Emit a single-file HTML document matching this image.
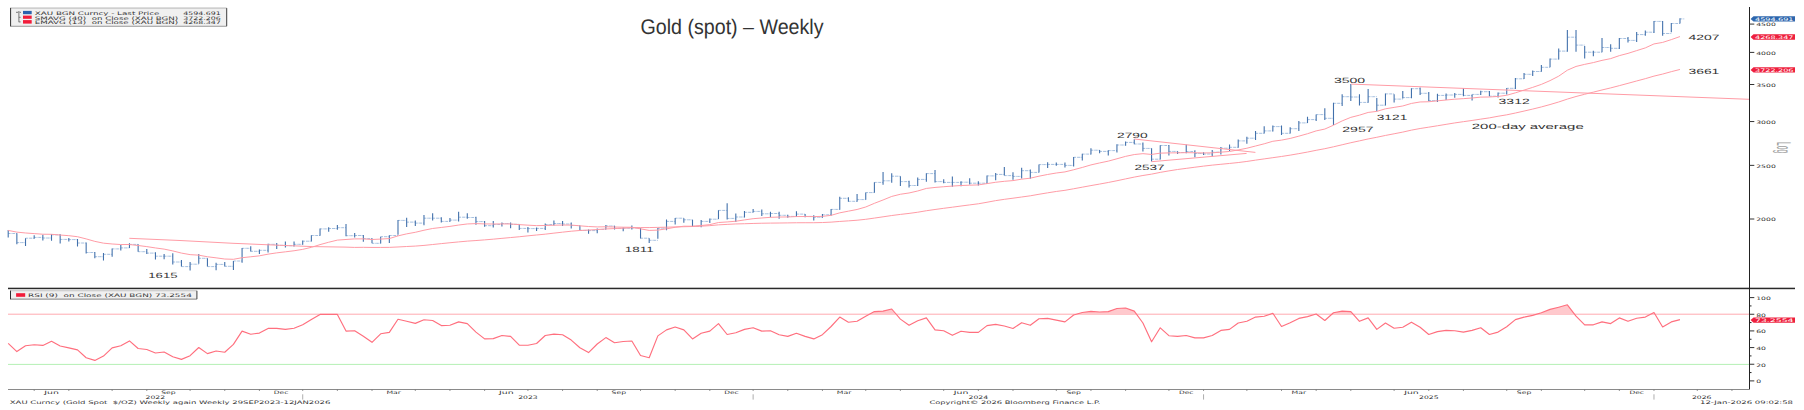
<!DOCTYPE html>
<html><head><meta charset="utf-8"><title>Gold (spot) – Weekly</title>
<style>html,body{margin:0;padding:0;background:#fff;width:1804px;height:410px;overflow:hidden}</style>
</head><body>
<svg width="1804" height="410" viewBox="0 0 1804 410" style="display:block" text-rendering="geometricPrecision">
<rect width="1804" height="410" fill="#fff"/>
<path d="M8.2 233.5H12.5M12.56 233.5H16.86M16.86 242.6H21.16M21.22 242.6H25.52M25.52 238.2H29.82M29.89 238.2H34.19M34.19 237.4H38.49M38.55 237.4H42.85M42.85 238H47.15M47.21 238H51.51M51.51 234.8H55.81M55.87 234.8H60.17M60.17 239.4H64.47M64.53 239.4H68.83M68.83 239.6H73.13M73.2 239.6H77.5M77.5 243H81.8M81.86 243H86.16M86.16 252.5H90.46M90.52 252.5H94.82M94.82 256.7H99.12M99.18 256.7H103.48M103.48 254.3H107.78M107.84 254.3H112.14M112.14 248.9H116.44M116.51 248.9H120.81M120.81 247.9H125.11M125.17 247.9H129.47M129.47 244.4H133.77M133.83 244.4H138.13M138.13 251.7H142.43M142.49 251.7H146.79M146.79 253.1H151.09M151.15 253.1H155.45M155.45 256.2H159.75M159.82 256.2H164.12M164.12 256.2H168.42M168.48 256.2H172.78M172.78 262H177.08M177.14 262H181.44M181.44 266.6H185.74M185.8 266.6H190.1M190.1 264.2H194.4M194.46 264.2H198.76M198.76 258.3H203.06M203.13 258.3H207.43M207.43 266.6H211.73M211.79 266.6H216.09M216.09 264.4H220.39M220.45 264.4H224.75M224.75 266.3H229.05M229.11 266.3H233.41M233.41 261H237.71M237.77 261H242.07M242.07 248.3H246.37M246.44 248.3H250.74M250.74 251.3H255.04M255.1 251.3H259.4M259.4 250.3H263.7M263.76 250.3H268.06M268.06 244.3H272.36M272.42 244.3H276.72M276.72 245.3H281.02M281.08 245.3H285.38M285.38 245.7H289.68M289.75 245.7H294.05M294.05 244.3H298.35M298.41 244.3H302.71M302.71 241.2H307.01M307.07 241.2H311.37M311.37 235.5H315.67M315.73 235.5H320.03M320.03 228.9H324.33M324.39 228.9H328.69M328.69 228.5H332.99M333.06 228.5H337.36M337.36 227.7H341.66M341.72 227.7H346.02M346.02 235.7H350.32M350.38 235.7H354.68M354.68 235.5H358.98M359.04 235.5H363.34M363.34 238.6H367.64M367.7 238.6H372M372 243.3H376.3M376.37 243.3H380.67M380.67 236.7H384.97M385.03 236.7H389.33M389.33 235.5H393.63M393.69 235.5H397.99M397.99 220.4H402.29M402.35 220.4H406.65M406.65 222.1H410.95M411.01 222.1H415.31M415.31 223.1H419.61M419.68 223.1H423.98M423.98 218.2H428.28M428.34 218.2H432.64M432.64 218.2H436.94M437 218.2H441.3M441.3 221.4H445.6M445.66 221.4H449.96M449.96 220.1H454.26M454.32 220.1H458.62M458.62 217.2H462.92M462.99 217.2H467.29M467.29 217.5H471.59M471.65 217.5H475.95M475.95 221.6H480.25M480.31 221.6H484.61M484.61 225.7H488.91M488.97 225.7H493.27M493.27 224.5H497.57M497.63 224.5H501.93M501.93 223.5H506.23M506.3 223.5H510.6M510.6 224.3H514.9M514.96 224.3H519.26M519.26 228.4H523.56M523.62 228.4H527.92M527.92 228.6H532.22M532.28 228.6H536.58M536.58 228.4H540.88M540.94 228.4H545.24M545.24 224.5H549.54M549.61 224.5H553.91M553.91 223.5H558.21M558.27 223.5H562.57M562.57 224H566.87M566.93 224H571.23M571.23 225.5H575.53M575.59 225.5H579.89M579.89 230.4H584.19M584.25 230.4H588.55M588.55 230.6H592.85M592.92 230.6H597.22M597.22 229.4H601.52M601.58 229.4H605.88M605.88 226H610.18M610.24 226H614.54M614.54 228.4H618.84M618.9 228.4H623.2M623.2 228.2H627.5M627.56 228.2H631.86M631.86 227.9H636.16M636.23 227.9H640.53M640.53 238.2H644.83M644.89 238.2H649.19M649.19 240.3H653.49M653.55 240.3H657.85M657.85 228.2H662.15M662.21 228.2H666.51M666.51 221.4H670.81M670.87 221.4H675.17M675.17 218.2H679.47M679.54 218.2H683.84M683.84 219.8H688.14M688.2 219.8H692.5M692.5 226.3H696.8M696.86 226.3H701.16M701.16 221.4H705.46M705.52 221.4H709.82M709.82 219.2H714.12M714.18 219.2H718.48M718.48 210.4H722.78M722.85 210.4H727.15M727.15 218.4H731.45M731.51 218.4H735.81M735.81 217H740.11M740.17 217H744.47M744.47 212.3H748.77M748.83 212.3H753.13M753.13 211.4H757.43M757.49 211.4H761.79M761.79 213.8H766.09M766.16 213.8H770.46M770.46 213.5H774.76M774.82 213.5H779.12M779.12 215.3H783.42M783.48 215.3H787.78M787.78 216.4H792.08M792.14 216.4H796.44M796.44 214.1H800.74M800.8 214.1H805.1M805.1 216.4H809.4M809.47 216.4H813.77M813.77 217.2H818.07M818.13 217.2H822.43M822.43 214.8H826.73M826.79 214.8H831.09M831.09 209.4H835.39M835.45 209.4H839.75M839.75 198.3H844.05M844.11 198.3H848.41M848.41 201.3H852.71M852.78 201.3H857.08M857.08 199.6H861.38M861.44 199.6H865.74M865.74 192.6H870.04M870.1 192.6H874.4M874.4 182.4H878.7M878.76 182.4H883.06M883.06 180.8H887.36M887.42 180.8H891.72M891.72 176.2H896.02M896.09 176.2H900.39M900.39 181.6H904.69M904.75 181.6H909.05M909.05 185.5H913.35M913.41 185.5H917.71M917.71 179.4H922.01M922.07 179.4H926.37M926.37 173.6H930.67M930.73 173.6H935.03M935.03 181.6H939.33M939.4 181.6H943.7M943.7 182.4H948M948.06 182.4H952.36M952.36 182.4H956.66M956.72 182.4H961.02M961.02 182.2H965.32M965.38 182.2H969.68M969.68 183.2H973.98M974.04 183.2H978.34M978.34 183.2H982.64M982.71 183.2H987.01M987.01 175.9H991.31M991.37 175.9H995.67M995.67 174.4H999.97M1000.03 174.4H1004.33M1004.33 175.6H1008.63M1008.69 175.6H1012.99M1012.99 176.4H1017.29M1017.35 176.4H1021.65M1021.65 170.7H1025.95M1026.02 170.7H1030.32M1030.32 172.4H1034.62M1034.68 172.4H1038.98M1038.98 164.6H1043.28M1043.34 164.6H1047.64M1047.64 164.4H1051.94M1052 164.4H1056.3M1056.3 164.4H1060.6M1060.66 164.4H1064.96M1064.96 165.4H1069.26M1069.33 165.4H1073.63M1073.63 157.3H1077.93M1077.99 157.3H1082.29M1082.29 154.1H1086.59M1086.65 154.1H1090.95M1090.95 150.2H1095.25M1095.31 150.2H1099.61M1099.61 151.4H1103.91M1103.97 151.4H1108.27M1108.27 150.6H1112.57M1112.64 150.6H1116.94M1116.94 145H1121.24M1121.3 145H1125.6M1125.6 142.4H1129.9M1129.96 142.4H1134.26M1134.26 144H1138.56M1138.62 144H1142.92M1142.92 148.4H1147.22M1147.28 148.4H1151.58M1151.58 159.2H1155.88M1155.95 159.2H1160.25M1160.25 145.5H1164.55M1164.61 145.5H1168.91M1168.91 151.4H1173.21M1173.27 151.4H1177.57M1177.57 152.5H1181.87M1181.93 152.5H1186.23M1186.23 151.5H1190.53M1190.59 151.5H1194.89M1194.89 153.5H1199.19M1199.26 153.5H1203.56M1203.56 154H1207.86M1207.92 154H1212.22M1212.22 152.2H1216.52M1216.58 152.2H1220.88M1220.88 148.2H1225.18M1225.24 148.2H1229.54M1229.54 147.3H1233.84M1233.9 147.3H1238.2M1238.2 140.9H1242.5M1242.57 140.9H1246.87M1246.87 138.2H1251.17M1251.23 138.2H1255.53M1255.53 133.3H1259.83M1259.89 133.3H1264.19M1264.19 130.9H1268.49M1268.55 130.9H1272.85M1272.85 126.6H1277.15M1277.21 126.6H1281.51M1281.51 133.3H1285.81M1285.88 133.3H1290.18M1290.18 128.7H1294.48M1294.54 128.7H1298.84M1298.84 122.9H1303.14M1303.2 122.9H1307.5M1307.5 119.6H1311.8M1311.86 119.6H1316.16M1316.16 114.6H1320.46M1320.52 114.6H1324.82M1324.82 118.3H1329.12M1329.19 118.3H1333.49M1333.49 103.3H1337.79M1337.85 103.3H1342.15M1342.15 96.7H1346.45M1346.51 96.7H1350.81M1350.81 97H1355.11M1355.17 97H1359.47M1359.47 102.4H1363.77M1363.83 102.4H1368.13M1368.13 96.7H1372.43M1372.5 96.7H1376.8M1376.8 105.2H1381.1M1381.16 105.2H1385.46M1385.46 93.9H1389.76M1389.82 93.9H1394.12M1394.12 99.1H1398.42M1398.48 99.1H1402.78M1402.78 97.6H1407.08M1407.14 97.6H1411.44M1411.44 88.7H1415.74M1415.81 88.7H1420.11M1420.11 93.3H1424.41M1424.47 93.3H1428.77M1428.77 100.6H1433.07M1433.13 100.6H1437.43M1437.43 95.4H1441.73M1441.79 95.4H1446.09M1446.09 95H1450.39M1450.45 95H1454.75M1454.75 94.4H1459.05M1459.12 94.4H1463.42M1463.42 95.4H1467.72M1467.78 95.4H1472.08M1472.08 94.4H1476.38M1476.44 94.4H1480.74M1480.74 91.7H1485.04M1485.1 91.7H1489.4M1489.4 96.2H1493.7M1493.76 96.2H1498.06M1498.06 93.2H1502.36M1502.43 93.2H1506.73M1506.73 88.3H1511.03M1511.09 88.3H1515.39M1515.39 78.8H1519.69M1519.75 78.8H1524.05M1524.05 74.3H1528.35M1528.41 74.3H1532.71M1532.71 71.5H1537.01M1537.07 71.5H1541.37M1541.37 67.3H1545.67M1545.74 67.3H1550.04M1550.04 59.1H1554.34M1554.4 59.1H1558.7M1558.7 51.1H1563M1563.06 51.1H1567.36M1567.36 37.2H1571.66M1571.72 37.2H1576.02M1576.02 45.1H1580.32M1580.38 45.1H1584.68M1584.68 52.2H1588.98M1589.05 52.2H1593.35M1593.35 52.2H1597.65M1597.71 52.2H1602.01M1602.01 47.5H1606.31M1606.37 47.5H1610.67M1610.67 48.3H1614.97M1615.03 48.3H1619.33M1619.33 38.5H1623.63M1623.69 38.5H1627.99M1627.99 40.4H1632.29M1632.36 40.4H1636.66M1636.66 34.6H1640.96M1641.02 34.6H1645.32M1645.32 32.2H1649.62M1649.68 32.2H1653.98M1653.98 21.4H1658.28M1658.34 21.4H1662.64M1662.64 33.5H1666.94M1667 33.5H1671.3M1671.3 23.5H1675.6M1675.67 23.5H1679.97M1679.97 18.9H1684.27" stroke="#a6c0e0" stroke-width="1" fill="none" stroke-dasharray="2.4 0.9"/>
<path d="M8.2 229.9V237.5M16.86 233.3V244.2M25.52 238.2V246M34.19 235.2V238.7M42.85 234.8V240.6M51.51 234.3V240.8M60.17 234.3V243.5M68.83 238V241.6M77.5 239V246.5M86.16 242.6V253.5M94.82 252V258.2M103.48 253.1V260.6M112.14 248.4V256.7M120.81 245V250.6M129.47 243.2V248M138.13 244.2V251.7M146.79 249V253.9M155.45 252.3V259.5M164.12 253.9V259.3M172.78 253.2V264.4M181.44 260V266.6M190.1 262V270.5M198.76 253.9V263.7M207.43 258.3V266.6M216.09 262.7V270.3M224.75 262V266.6M233.41 261V270M242.07 248V262.7M250.74 246.2V251.6M259.4 249.4V254M268.06 243.8V252.6M276.72 243.1V249M285.38 241.4V247.4M294.05 241.4V246.4M302.71 240.4V244.8M311.37 235.3V241.4M320.03 228.5V235.7M328.69 227.2V231.8M337.36 225.1V229.8M346.02 224V236.3M354.68 232.9V237.6M363.34 235V241.8M372 238.2V243.3M380.67 236.7V243.6M389.33 235.3V243.1M397.99 220.1V234.8M406.65 217.7V227M415.31 220.4V226M423.98 215.1V225.3M432.64 213.3V220.6M441.3 217.2V222.6M449.96 217.9V221.8M458.62 211.8V221.6M467.29 213.3V218.7M475.95 216.7V224.7M484.61 221.1V226.7M493.27 221.1V227.4M501.93 222.6V226.5M510.6 222.6V228.2M519.26 224.3V229.9M527.92 227V232.5M536.58 227.4V230.9M545.24 223.5V229.9M553.91 220.6V225.5M562.57 221.1V226M571.23 222.4V228.4M579.89 225.5V230.6M588.55 229.4V233.8M597.22 228.4V233.3M605.88 225V229.4M614.54 225.7V229.4M623.2 227.4V231.2M631.86 225.5V229.6M640.53 227.9V238.4M649.19 238.2V243.1M657.85 227.9V238.7M666.51 219.4V230.2M675.17 217.9V224.5M683.84 218.2V222.8M692.5 219.8V227M701.16 220.1V227.3M709.82 218.5V223.1M718.48 210.2V219M727.15 203.3V219.4M735.81 213.5V221.9M744.47 210.9V217.4M753.13 208.9V212.5M761.79 209.6V216M770.46 211.8V217.2M779.12 211.8V218.7M787.78 214.8V217.7M796.44 211.2V216.7M805.1 214.1V217.2M813.77 215.3V220.6M822.43 214.1V217.7M831.09 208.9V215.7M839.75 196.7V209.7M848.41 197.2V201.8M857.08 194.1V201.8M865.74 192.4V199.8M874.4 182.3V192.8M883.06 172V184.8M891.72 173.3V182.8M900.39 176.2V186M909.05 180.8V187.6M917.71 177.5V186M926.37 173.3V181.8M935.03 170.1V182.6M943.7 179.2V183.3M952.36 176.5V186.7M961.02 181.2V186.3M969.68 178.3V184.6M978.34 181.2V185.6M987.01 175.6V183.7M995.67 172.9V180.3M1004.33 167.1V175.6M1012.99 172.3V179.8M1021.65 167.8V178.5M1030.32 169.5V178.8M1038.98 164.4V172.6M1047.64 162.2V168.1M1056.3 162.5V165.8M1064.96 162.5V167.6M1073.63 157V166.6M1082.29 153.7V160.6M1090.95 148.2V154.5M1099.61 149.9V153.3M1108.27 150.2V155.5M1116.94 144.3V152.5M1125.6 141.6V145.7M1134.26 139.2V144.3M1142.92 142.6V151.5M1151.58 148.2V161.6M1160.25 145.3V159.6M1168.91 145V155.5M1177.57 151.2V154.1M1186.23 144.5V153.3M1194.89 150.2V157.2M1203.56 152.2V155M1212.22 150.1V156.5M1220.88 147V154.6M1229.54 144.5V151M1238.2 139.4V147.7M1246.87 136.7V143.7M1255.53 130.9V140M1264.19 126.2V133.5M1272.85 125.4V131.5M1281.51 125.4V135.1M1290.18 127.2V133.5M1298.84 121.1V130.9M1307.5 116.8V122.9M1316.16 114.6V120.9M1324.82 108.2V119.9M1333.49 102.8V125M1342.15 94.3V106.1M1350.81 84.1V100.9M1359.47 94.3V105.5M1368.13 89V102.8M1376.8 97.9V111.3M1385.46 93.5V105.5M1394.12 94.3V102.4M1402.78 90.9V98.4M1411.44 88.2V98.2M1420.11 87.4V95.1M1428.77 92.1V101.2M1437.43 93.8V102M1446.09 93.4V99.9M1454.75 92.9V97.8M1463.42 88V96.2M1472.08 94.4V100.5M1480.74 90.7V95M1489.4 91V96.2M1498.06 92.6V97.4M1506.73 88V94.6M1515.39 77.9V88.9M1524.05 73V79.1M1532.71 70.6V75.9M1541.37 64.9V71.7M1550.04 58.6V67.3M1558.7 48.6V59.4M1567.36 30.1V51.8M1576.02 30.1V51.8M1584.68 45.9V58.6M1593.35 50.7V56.2M1602.01 38V52.2M1610.67 44.3V51.8M1619.33 38V49.1M1627.99 36.9V42.5M1636.66 31.9V42M1645.32 30.6V35.7M1653.98 21.1V33M1662.64 21.1V35.7M1671.3 23V32.2M1679.97 18.2V23.5" stroke="#4271ac" stroke-width="1.1" fill="none"/>
<polyline points="8.2,230.41 16.86,232.11 25.52,232.97 34.19,233.6 42.85,234.23 51.51,234.31 60.17,235.03 68.83,235.68 77.5,236.71 86.16,238.9 94.82,241.37 103.48,243.17 112.14,243.98 120.81,244.54 129.47,244.52 138.13,245.53 146.79,246.6 155.45,247.95 164.12,249.11 172.78,250.91 181.44,253.09 190.1,254.64 198.76,255.16 207.43,256.76 216.09,257.84 224.75,259.03 233.41,259.31 242.07,257.71 250.74,256.78 259.4,255.84 268.06,254.16 276.72,252.87 285.38,251.84 294.05,250.75 302.71,249.36 311.37,247.33 320.03,244.61 328.69,242.24 337.36,240.11 346.02,239.47 354.68,238.9 363.34,238.86 372,239.49 380.67,239.09 389.33,238.57 397.99,235.89 406.65,233.87 415.31,232.3 423.98,230.24 432.64,228.48 441.3,227.46 449.96,226.39 458.62,225.06 467.29,223.96 475.95,223.62 484.61,223.92 493.27,224 501.93,223.93 510.6,223.98 519.26,224.61 527.92,225.17 536.58,225.63 545.24,225.47 553.91,225.19 562.57,225.02 571.23,225.09 579.89,225.84 588.55,226.51 597.22,226.92 605.88,226.79 614.54,227.02 623.2,227.19 631.86,227.29 640.53,228.82 649.19,230.43 657.85,230.11 666.51,228.84 675.17,227.29 683.84,226.21 692.5,226.22 701.16,225.53 709.82,224.61 718.48,222.53 727.15,221.94 735.81,221.22 744.47,219.93 753.13,218.69 761.79,217.99 770.46,217.34 779.12,217.05 787.78,216.96 796.44,216.55 805.1,216.52 813.77,216.62 822.43,216.36 831.09,215.35 839.75,212.84 848.41,211.16 857.08,209.47 865.74,206.99 874.4,203.32 883.06,199.97 891.72,196.43 900.39,194.25 909.05,192.98 917.71,190.99 926.37,188.43 935.03,187.44 943.7,186.72 952.36,186.09 961.02,185.53 969.68,185.2 978.34,184.91 987.01,183.6 995.67,182.27 1004.33,181.3 1012.99,180.6 1021.65,179.16 1030.32,178.18 1038.98,176.19 1047.64,174.47 1056.3,173.01 1064.96,171.91 1073.63,169.76 1082.29,167.46 1090.95,164.92 1099.61,162.94 1108.27,161.14 1116.94,158.77 1125.6,156.36 1134.26,154.55 1142.92,153.66 1151.58,154.45 1160.25,153.15 1168.91,152.9 1177.57,152.84 1186.23,152.65 1194.89,152.77 1203.56,152.95 1212.22,152.84 1220.88,152.17 1229.54,151.47 1238.2,149.93 1246.87,148.22 1255.53,146.03 1264.19,143.81 1272.85,141.27 1281.51,140.12 1290.18,138.45 1298.84,136.17 1307.5,133.73 1316.16,130.9 1324.82,129.06 1333.49,125.21 1342.15,120.92 1350.81,117.36 1359.47,115.16 1368.13,112.44 1376.8,111.39 1385.46,108.81 1394.12,107.4 1402.78,105.97 1411.44,103.43 1420.11,101.96 1428.77,101.76 1437.43,100.84 1446.09,100 1454.75,99.19 1463.42,98.65 1472.08,98.03 1480.74,97.12 1489.4,96.99 1498.06,96.44 1506.73,95.26 1515.39,92.84 1524.05,90.1 1532.71,87.36 1541.37,84.39 1550.04,80.61 1558.7,76.16 1567.36,70.2 1576.02,66.45 1584.68,64.36 1593.35,62.58 1602.01,60.37 1610.67,58.61 1619.33,55.63 1627.99,53.39 1636.66,50.62 1645.32,47.9 1653.98,43.93 1662.64,42.41 1671.3,39.62 1679.97,36.55" stroke="#ff9ca6" stroke-width="1" fill="none"/>
<polyline points="129.3,238.3 180,240.5 233,243.3 245,243.8 280,245.3 312.8,246.6 345,247.1 354.68,247.42 363.34,247.32 372,247.45 380.67,247.43 389.33,247.37 397.99,246.98 406.65,246.51 415.31,246.08 423.98,245.42 432.64,244.52 441.3,243.62 449.96,242.74 458.62,241.92 467.29,241.13 475.95,240.54 484.61,239.89 493.27,239.17 501.93,238.35 510.6,237.56 519.26,236.75 527.92,235.84 536.58,234.99 545.24,234.16 553.91,233.14 562.57,232.17 571.23,231.21 579.89,230.49 588.55,230.06 597.22,229.54 605.88,228.95 614.54,228.57 623.2,228.16 631.86,227.73 640.53,227.58 649.19,227.56 657.85,227.38 666.51,227.19 675.17,226.93 683.84,226.73 692.5,226.5 701.16,226.15 709.82,225.67 718.48,224.85 727.15,224.4 735.81,223.94 744.47,223.73 753.13,223.46 761.79,223.22 770.46,223.1 779.12,223.03 787.78,222.9 796.44,222.75 805.1,222.73 813.77,222.72 822.43,222.54 831.09,222.13 839.75,221.44 848.41,220.87 857.08,220.23 865.74,219.3 874.4,218.08 883.06,216.82 891.72,215.53 900.39,214.42 909.05,213.42 917.71,212.22 926.37,210.74 935.03,209.49 943.7,208.3 952.36,207.19 961.02,206.02 969.68,204.9 978.34,203.79 987.01,202.25 995.67,200.64 1004.33,199.33 1012.99,198.2 1021.65,197 1030.32,195.81 1038.98,194.27 1047.64,192.83 1056.3,191.46 1064.96,190.32 1073.63,188.78 1082.29,187.18 1090.95,185.59 1099.61,184.07 1108.27,182.48 1116.94,180.74 1125.6,178.9 1134.26,177.1 1142.92,175.49 1151.58,174.13 1160.25,172.39 1168.91,170.88 1177.57,169.51 1186.23,168.37 1194.89,167.22 1203.56,166.12 1212.22,165.14 1220.88,164.29 1229.54,163.45 1238.2,162.55 1246.87,161.45 1255.53,160.14 1264.19,158.9 1272.85,157.68 1281.51,156.48 1290.18,155.13 1298.84,153.63 1307.5,152.05 1316.16,150.31 1324.82,148.69 1333.49,146.81 1342.15,144.77 1350.81,142.73 1359.47,140.86 1368.13,138.95 1376.8,137.27 1385.46,135.44 1394.12,133.79 1402.78,132.1 1411.44,130.14 1420.11,128.51 1428.77,127.16 1437.43,125.77 1446.09,124.35 1454.75,122.93 1463.42,121.68 1472.08,120.46 1480.74,119.14 1489.4,117.86 1498.06,116.26 1506.73,114.84 1515.39,113.02 1524.05,111.07 1532.71,109.07 1541.37,106.93 1550.04,104.55 1558.7,101.99 1567.36,99.09 1576.02,96.5 1584.68,94.28 1593.35,92.14 1602.01,89.98 1610.67,87.91 1619.33,85.65 1627.99,83.34 1636.66,80.97 1645.32,78.66 1653.98,76.12 1662.64,74.07 1671.3,71.67 1679.97,69.46" stroke="#ff9ca6" stroke-width="1" fill="none"/>
<line x1="1134.4" y1="139" x2="1255.4" y2="152.4" stroke="#ff9ca6" stroke-width="1"/>
<line x1="1151.5" y1="161.7" x2="1246.6" y2="153.4" stroke="#ff9ca6" stroke-width="1"/>
<line x1="1351.2" y1="84.1" x2="1749" y2="99.3" stroke="#ff9ca6" stroke-width="1"/>
<text transform="translate(148.3 278.04) scale(0.1)" x="0" y="0" font-family='"Liberation Sans", Arial, sans-serif' font-size="76" font-weight="normal" fill="#333" textLength="293" lengthAdjust="spacingAndGlyphs">1615</text>
<text transform="translate(624.8 251.74) scale(0.1)" x="0" y="0" font-family='"Liberation Sans", Arial, sans-serif' font-size="76" font-weight="normal" fill="#333" textLength="289" lengthAdjust="spacingAndGlyphs">1811</text>
<text transform="translate(1117 138.24) scale(0.1)" x="0" y="0" font-family='"Liberation Sans", Arial, sans-serif' font-size="76" font-weight="normal" fill="#333" textLength="307" lengthAdjust="spacingAndGlyphs">2790</text>
<text transform="translate(1134.4 169.54) scale(0.1)" x="0" y="0" font-family='"Liberation Sans", Arial, sans-serif' font-size="76" font-weight="normal" fill="#333" textLength="302" lengthAdjust="spacingAndGlyphs">2537</text>
<text transform="translate(1333.9 83.44) scale(0.1)" x="0" y="0" font-family='"Liberation Sans", Arial, sans-serif' font-size="76" font-weight="normal" fill="#333" textLength="313" lengthAdjust="spacingAndGlyphs">3500</text>
<text transform="translate(1342.3 131.74) scale(0.1)" x="0" y="0" font-family='"Liberation Sans", Arial, sans-serif' font-size="76" font-weight="normal" fill="#333" textLength="313" lengthAdjust="spacingAndGlyphs">2957</text>
<text transform="translate(1376.7 119.64) scale(0.1)" x="0" y="0" font-family='"Liberation Sans", Arial, sans-serif' font-size="76" font-weight="normal" fill="#333" textLength="306" lengthAdjust="spacingAndGlyphs">3121</text>
<text transform="translate(1498.6 104.34) scale(0.1)" x="0" y="0" font-family='"Liberation Sans", Arial, sans-serif' font-size="76" font-weight="normal" fill="#333" textLength="311" lengthAdjust="spacingAndGlyphs">3312</text>
<text transform="translate(1688.5 40.24) scale(0.1)" x="0" y="0" font-family='"Liberation Sans", Arial, sans-serif' font-size="76" font-weight="normal" fill="#333" textLength="311" lengthAdjust="spacingAndGlyphs">4207</text>
<text transform="translate(1688.5 74.04) scale(0.1)" x="0" y="0" font-family='"Liberation Sans", Arial, sans-serif' font-size="76" font-weight="normal" fill="#333" textLength="308" lengthAdjust="spacingAndGlyphs">3661</text>
<text transform="translate(1471.8 128.74) scale(0.1)" x="0" y="0" font-family='"Liberation Sans", Arial, sans-serif' font-size="76" font-weight="normal" fill="#333" textLength="1119" lengthAdjust="spacingAndGlyphs">200-day average</text>
<text x="640.5" y="33.8" font-family='"Liberation Sans", Arial, sans-serif' font-size="21.2" fill="#333" textLength="183" lengthAdjust="spacingAndGlyphs">Gold (spot) – Weekly</text>
<rect x="10.1" y="7.6" width="217.1" height="19.1" rx="0.8" fill="#f0f0f0"/>
<line x1="10.6" y1="8.1" x2="226.7" y2="8.1" stroke="#c4c4c4" stroke-width="1.1"/>
<line x1="10.6" y1="26.2" x2="226.7" y2="26.2" stroke="#9a9a9a" stroke-width="1.1"/>
<line x1="10.6" y1="7.9" x2="10.6" y2="26.4" stroke="#303030" stroke-width="1"/>
<line x1="226.7" y1="8.1" x2="226.7" y2="26.2" stroke="#404040" stroke-width="1"/>
<path d="M18.9 11V22.2M16 12.3H18.2M19.6 12.3H21M18.9 17.3H20.6M18.9 21.9H20.6" stroke="#6a6a6a" stroke-width="0.9" fill="none"/>
<rect x="23" y="10.9" width="8.7" height="3.3" fill="#2b63ad"/>
<rect x="23" y="15.6" width="8.7" height="3.2" fill="#f21c3a"/>
<rect x="23" y="20.1" width="8.7" height="3.5" fill="#f21c3a"/>
<text transform="translate(34.8 15) scale(0.1)" x="0" y="0" font-family='"DejaVu Sans", "Liberation Sans", sans-serif' font-size="49" fill="#333" textLength="1246" lengthAdjust="spacingAndGlyphs" xml:space="preserve">XAU BGN Curncy - Last Price</text>
<text transform="translate(183.3 15) scale(0.1)" x="0" y="0" font-family='"DejaVu Sans", "Liberation Sans", sans-serif' font-size="49" fill="#333" textLength="374" lengthAdjust="spacingAndGlyphs">4594.691</text>
<text transform="translate(34.8 20) scale(0.1)" x="0" y="0" font-family='"DejaVu Sans", "Liberation Sans", sans-serif' font-size="49" fill="#333" textLength="1432" lengthAdjust="spacingAndGlyphs" xml:space="preserve">SMAVG (40)  on Close (XAU BGN)</text>
<text transform="translate(183.3 20) scale(0.1)" x="0" y="0" font-family='"DejaVu Sans", "Liberation Sans", sans-serif' font-size="49" fill="#333" textLength="374" lengthAdjust="spacingAndGlyphs">3722.206</text>
<text transform="translate(34.8 24) scale(0.1)" x="0" y="0" font-family='"DejaVu Sans", "Liberation Sans", sans-serif' font-size="49" fill="#333" textLength="1432" lengthAdjust="spacingAndGlyphs" xml:space="preserve">EMAVG (13)  on Close (XAU BGN)</text>
<text transform="translate(183.3 24) scale(0.1)" x="0" y="0" font-family='"DejaVu Sans", "Liberation Sans", sans-serif' font-size="49" fill="#333" textLength="374" lengthAdjust="spacingAndGlyphs">4268.347</text>
<rect x="8" y="287.7" width="1787" height="1.5" fill="#2a2a2a"/>
<line x1="1749.5" y1="7" x2="1749.5" y2="389.5" stroke="#222" stroke-width="1"/>
<line x1="1749.5" y1="24.09" x2="1754.3" y2="24.09" stroke="#333" stroke-width="1"/>
<text transform="translate(1756.2 26.39) scale(0.1)" x="0" y="0" font-family='"DejaVu Sans", "Liberation Sans", sans-serif' font-size="46" fill="#333" textLength="196" lengthAdjust="spacingAndGlyphs">4500</text>
<line x1="1749.5" y1="52.4" x2="1754.3" y2="52.4" stroke="#333" stroke-width="1"/>
<text transform="translate(1756.2 54.7) scale(0.1)" x="0" y="0" font-family='"DejaVu Sans", "Liberation Sans", sans-serif' font-size="46" fill="#333" textLength="196" lengthAdjust="spacingAndGlyphs">4000</text>
<line x1="1749.5" y1="84.5" x2="1754.3" y2="84.5" stroke="#333" stroke-width="1"/>
<text transform="translate(1756.2 86.8) scale(0.1)" x="0" y="0" font-family='"DejaVu Sans", "Liberation Sans", sans-serif' font-size="46" fill="#333" textLength="196" lengthAdjust="spacingAndGlyphs">3500</text>
<line x1="1749.5" y1="121.55" x2="1754.3" y2="121.55" stroke="#333" stroke-width="1"/>
<text transform="translate(1756.2 123.85) scale(0.1)" x="0" y="0" font-family='"DejaVu Sans", "Liberation Sans", sans-serif' font-size="46" fill="#333" textLength="196" lengthAdjust="spacingAndGlyphs">3000</text>
<line x1="1749.5" y1="165.37" x2="1754.3" y2="165.37" stroke="#333" stroke-width="1"/>
<text transform="translate(1756.2 167.67) scale(0.1)" x="0" y="0" font-family='"DejaVu Sans", "Liberation Sans", sans-serif' font-size="46" fill="#333" textLength="196" lengthAdjust="spacingAndGlyphs">2500</text>
<line x1="1749.5" y1="219" x2="1754.3" y2="219" stroke="#333" stroke-width="1"/>
<text transform="translate(1756.2 221.3) scale(0.1)" x="0" y="0" font-family='"DejaVu Sans", "Liberation Sans", sans-serif' font-size="46" fill="#333" textLength="196" lengthAdjust="spacingAndGlyphs">2000</text>
<path d="M1750.6 18.9 L1753.5 16.2 H1795 V21.6 H1753.5 Z" fill="#2d66ad"/>
<text transform="translate(1755 20.6) scale(0.1)" x="0" y="0" font-family='"DejaVu Sans", "Liberation Sans", sans-serif' font-size="48" fill="#fff" textLength="385" lengthAdjust="spacingAndGlyphs">4594.691</text>
<path d="M1750.6 37 L1753.5 34.3 H1795 V39.7 H1753.5 Z" fill="#ee1f3d"/>
<text transform="translate(1755 38.7) scale(0.1)" x="0" y="0" font-family='"DejaVu Sans", "Liberation Sans", sans-serif' font-size="48" fill="#fff" textLength="385" lengthAdjust="spacingAndGlyphs">4268.347</text>
<path d="M1750.6 69.9 L1753.5 67.2 H1795 V72.6 H1753.5 Z" fill="#ee1f3d"/>
<text transform="translate(1755 71.6) scale(0.1)" x="0" y="0" font-family='"DejaVu Sans", "Liberation Sans", sans-serif' font-size="48" fill="#fff" textLength="385" lengthAdjust="spacingAndGlyphs">3722.206</text>
<text x="0" y="0" font-family='"Liberation Sans", Arial, sans-serif' font-size="20" fill="#a0a0a0" transform="translate(1776.6,142) rotate(90)" textLength="11.3" lengthAdjust="spacingAndGlyphs">Log</text>
<line x1="8" y1="314.2" x2="1749" y2="314.2" stroke="#ffaab0" stroke-width="1"/>
<line x1="8" y1="364.4" x2="1749" y2="364.4" stroke="#b4f0b4" stroke-width="1"/>
<polygon points="869.5,314.2 874.4,311.6 883.06,311.1 891.72,309 896.18,314.2" fill="#ffc9cd"/>
<polygon points="1076.4,314.2 1082.29,312.5 1090.95,311.4 1099.61,312 1108.27,311.6 1116.94,308.5 1125.6,308 1134.26,311.1 1136.52,314.2" fill="#ffc9cd"/>
<polygon points="1270.16,314.2 1272.85,313.3 1273.44,314.2" fill="#ffc9cd"/>
<polygon points="1315.5,314.2 1316.16,314 1316.43,314.2" fill="#ffc9cd"/>
<polygon points="1331.91,314.2 1333.49,312.8 1342.15,311.1 1350.81,311.6 1353.13,314.2" fill="#ffc9cd"/>
<polygon points="1536.71,314.2 1541.37,312.8 1550.04,309.4 1558.7,307.2 1567.36,304.8 1574.5,314.2" fill="#ffc9cd"/>
<polygon points="1650.78,314.2 1653.98,312.5 1655,314.2" fill="#ffc9cd"/>
<polyline points="8.2,343.4 16.86,351.6 25.52,345.8 34.19,344.8 42.85,345.4 51.51,341.3 60.17,346 68.83,347.9 77.5,349.9 86.16,357.7 94.82,360.4 103.48,356.1 112.14,347.9 120.81,345.8 129.47,340.9 138.13,348.5 146.79,349.5 155.45,353 164.12,352 172.78,356.7 181.44,359.4 190.1,355.7 198.76,347.5 207.43,353.6 216.09,351 224.75,352.2 233.41,344.4 242.07,331.1 250.74,334.2 259.4,333.1 268.06,328.4 276.72,328.4 285.38,329.4 294.05,328.2 302.71,324.8 311.37,319.6 320.03,314.4 328.69,314.4 337.36,314.4 346.02,331.1 354.68,330.7 363.34,336.2 372,342.3 380.67,333.8 389.33,332.4 397.99,319.3 406.65,321.3 415.31,323.4 423.98,319.8 432.64,320.5 441.3,325.6 449.96,325.3 458.62,321.9 467.29,323.6 475.95,332.1 484.61,338.9 493.27,338.6 501.93,335.5 510.6,336.4 519.26,345.2 527.92,345.2 536.58,343.5 545.24,335.5 553.91,334.1 562.57,334.7 571.23,340.1 579.89,347.8 588.55,352.6 597.22,344 605.88,337.6 614.54,342.7 623.2,341.5 631.86,341 640.53,355.5 649.19,357.7 657.85,335.9 666.51,329.9 675.17,327 683.84,329.9 692.5,338.9 701.16,333.3 709.82,331.1 718.48,323.6 727.15,334.5 735.81,332.8 744.47,329.4 753.13,327.7 761.79,331.1 770.46,330.7 779.12,334.7 787.78,336.4 796.44,333.3 805.1,336.4 813.77,338.9 822.43,334.7 831.09,326.5 839.75,317.1 848.41,322.2 857.08,321.3 865.74,316.2 874.4,311.6 883.06,311.1 891.72,309 900.39,319.1 909.05,325.3 917.71,320.8 926.37,317.9 935.03,329.9 943.7,330.7 952.36,335.3 961.02,331.2 969.68,332.4 978.34,332.4 987.01,325.6 995.67,324.4 1004.33,326 1012.99,328.5 1021.65,322.7 1030.32,325.3 1038.98,318.8 1047.64,318.4 1056.3,320.1 1064.96,321.9 1073.63,315 1082.29,312.5 1090.95,311.4 1099.61,312 1108.27,311.6 1116.94,308.5 1125.6,308 1134.26,311.1 1142.92,323 1151.58,341.8 1160.25,327.8 1168.91,335.7 1177.57,336.4 1186.23,335.5 1194.89,337.9 1203.56,337.9 1212.22,335.5 1220.88,330.4 1229.54,329.4 1238.2,323 1246.87,321.3 1255.53,317.1 1264.19,316.2 1272.85,313.3 1281.51,326.5 1290.18,322.7 1298.84,318.4 1307.5,316.6 1316.16,314 1324.82,320.5 1333.49,312.8 1342.15,311.1 1350.81,311.6 1359.47,321.3 1368.13,317.9 1376.8,329.4 1385.46,323 1394.12,328.2 1402.78,327.3 1411.44,322.2 1420.11,327.3 1428.77,334.5 1437.43,331.6 1446.09,330.4 1454.75,330.7 1463.42,332.1 1472.08,330.4 1480.74,327.8 1489.4,334.5 1498.06,332.1 1506.73,326.8 1515.39,319.6 1524.05,317.1 1532.71,315.4 1541.37,312.8 1550.04,309.4 1558.7,307.2 1567.36,304.8 1576.02,316.2 1584.68,324.8 1593.35,324.8 1602.01,321.9 1610.67,323.6 1619.33,317.9 1627.99,321.3 1636.66,318.3 1645.32,317.1 1653.98,312.5 1662.64,327 1671.3,321.9 1679.97,319.6" stroke="#ff6f7e" stroke-width="1.15" fill="none" stroke-linejoin="round"/>
<line x1="1749.5" y1="380.9" x2="1754.3" y2="380.9" stroke="#333" stroke-width="1"/>
<text transform="translate(1756.2 383.2) scale(0.1)" x="0" y="0" font-family='"DejaVu Sans", "Liberation Sans", sans-serif' font-size="46" fill="#333" textLength="49" lengthAdjust="spacingAndGlyphs">0</text>
<line x1="1749.5" y1="372.57" x2="1751.5" y2="372.57" stroke="#222" stroke-width="1"/>
<line x1="1749.5" y1="364.24" x2="1754.3" y2="364.24" stroke="#333" stroke-width="1"/>
<text transform="translate(1756.2 366.54) scale(0.1)" x="0" y="0" font-family='"DejaVu Sans", "Liberation Sans", sans-serif' font-size="46" fill="#333" textLength="98" lengthAdjust="spacingAndGlyphs">20</text>
<line x1="1749.5" y1="355.91" x2="1751.5" y2="355.91" stroke="#222" stroke-width="1"/>
<line x1="1749.5" y1="347.58" x2="1754.3" y2="347.58" stroke="#333" stroke-width="1"/>
<text transform="translate(1756.2 349.88) scale(0.1)" x="0" y="0" font-family='"DejaVu Sans", "Liberation Sans", sans-serif' font-size="46" fill="#333" textLength="98" lengthAdjust="spacingAndGlyphs">40</text>
<line x1="1749.5" y1="339.25" x2="1751.5" y2="339.25" stroke="#222" stroke-width="1"/>
<line x1="1749.5" y1="330.92" x2="1754.3" y2="330.92" stroke="#333" stroke-width="1"/>
<text transform="translate(1756.2 333.22) scale(0.1)" x="0" y="0" font-family='"DejaVu Sans", "Liberation Sans", sans-serif' font-size="46" fill="#333" textLength="98" lengthAdjust="spacingAndGlyphs">60</text>
<line x1="1749.5" y1="322.59" x2="1751.5" y2="322.59" stroke="#222" stroke-width="1"/>
<line x1="1749.5" y1="314.26" x2="1754.3" y2="314.26" stroke="#333" stroke-width="1"/>
<text transform="translate(1756.2 316.56) scale(0.1)" x="0" y="0" font-family='"DejaVu Sans", "Liberation Sans", sans-serif' font-size="46" fill="#333" textLength="98" lengthAdjust="spacingAndGlyphs">80</text>
<line x1="1749.5" y1="305.93" x2="1751.5" y2="305.93" stroke="#222" stroke-width="1"/>
<line x1="1749.5" y1="297.6" x2="1754.3" y2="297.6" stroke="#333" stroke-width="1"/>
<text transform="translate(1756.2 299.9) scale(0.1)" x="0" y="0" font-family='"DejaVu Sans", "Liberation Sans", sans-serif' font-size="46" fill="#333" textLength="147" lengthAdjust="spacingAndGlyphs">100</text>
<path d="M1750.6 320.1 L1753.5 317.5 H1795 V322.7 H1753.5 Z" fill="#ee1f3d"/>
<text transform="translate(1755 321.8) scale(0.1)" x="0" y="0" font-family='"DejaVu Sans", "Liberation Sans", sans-serif' font-size="48" fill="#fff" textLength="385" lengthAdjust="spacingAndGlyphs">73.2554</text>
<rect x="10" y="290.3" width="187.4" height="9.3" rx="0.8" fill="#f0f0f0"/>
<line x1="10.5" y1="290.8" x2="196.9" y2="290.8" stroke="#c4c4c4" stroke-width="1.1"/>
<line x1="10.5" y1="299.1" x2="196.9" y2="299.1" stroke="#9a9a9a" stroke-width="1.1"/>
<line x1="10.5" y1="290.6" x2="10.5" y2="299.3" stroke="#303030" stroke-width="1"/>
<line x1="196.9" y1="290.8" x2="196.9" y2="299.1" stroke="#404040" stroke-width="1"/>
<rect x="16.1" y="293.2" width="9.1" height="3.6" fill="#f21c3a"/>
<text transform="translate(28.1 296.8) scale(0.1)" x="0" y="0" font-family='"DejaVu Sans", "Liberation Sans", sans-serif' font-size="49" fill="#333" textLength="1637" lengthAdjust="spacingAndGlyphs" xml:space="preserve">RSI (9)  on Close (XAU BGN) 73.2554</text>
<line x1="8" y1="389.5" x2="1749.5" y2="389.5" stroke="#8a8a8a" stroke-width="1"/>
<line x1="34.19" y1="389.5" x2="34.19" y2="391" stroke="#777" stroke-width="0.8"/>
<text transform="translate(51.51 394.2) scale(0.1)" x="0" y="0" font-family='"DejaVu Sans", "Liberation Sans", sans-serif' font-size="46" fill="#333" text-anchor="middle" textLength="145" lengthAdjust="spacingAndGlyphs">Jun</text>
<line x1="68.83" y1="389.5" x2="68.83" y2="391" stroke="#777" stroke-width="0.8"/>
<line x1="112.14" y1="389.5" x2="112.14" y2="391" stroke="#777" stroke-width="0.8"/>
<line x1="146.79" y1="389.5" x2="146.79" y2="391" stroke="#777" stroke-width="0.8"/>
<text transform="translate(168.45 394.2) scale(0.1)" x="0" y="0" font-family='"DejaVu Sans", "Liberation Sans", sans-serif' font-size="46" fill="#333" text-anchor="middle" textLength="145" lengthAdjust="spacingAndGlyphs">Sep</text>
<line x1="190.1" y1="389.5" x2="190.1" y2="391" stroke="#777" stroke-width="0.8"/>
<line x1="224.75" y1="389.5" x2="224.75" y2="391" stroke="#777" stroke-width="0.8"/>
<line x1="259.4" y1="389.5" x2="259.4" y2="391" stroke="#777" stroke-width="0.8"/>
<text transform="translate(281.05 394.2) scale(0.1)" x="0" y="0" font-family='"DejaVu Sans", "Liberation Sans", sans-serif' font-size="46" fill="#333" text-anchor="middle" textLength="145" lengthAdjust="spacingAndGlyphs">Dec</text>
<line x1="302.71" y1="389.5" x2="302.71" y2="391" stroke="#777" stroke-width="0.8"/>
<line x1="302.71" y1="394.3" x2="302.71" y2="399.6" stroke="#999" stroke-width="0.8"/>
<line x1="337.36" y1="389.5" x2="337.36" y2="391" stroke="#777" stroke-width="0.8"/>
<line x1="372" y1="389.5" x2="372" y2="391" stroke="#777" stroke-width="0.8"/>
<text transform="translate(393.66 394.2) scale(0.1)" x="0" y="0" font-family='"DejaVu Sans", "Liberation Sans", sans-serif' font-size="46" fill="#333" text-anchor="middle" textLength="145" lengthAdjust="spacingAndGlyphs">Mar</text>
<line x1="415.31" y1="389.5" x2="415.31" y2="391" stroke="#777" stroke-width="0.8"/>
<line x1="449.96" y1="389.5" x2="449.96" y2="391" stroke="#777" stroke-width="0.8"/>
<line x1="484.61" y1="389.5" x2="484.61" y2="391" stroke="#777" stroke-width="0.8"/>
<text transform="translate(506.27 394.2) scale(0.1)" x="0" y="0" font-family='"DejaVu Sans", "Liberation Sans", sans-serif' font-size="46" fill="#333" text-anchor="middle" textLength="145" lengthAdjust="spacingAndGlyphs">Jun</text>
<line x1="527.92" y1="389.5" x2="527.92" y2="391" stroke="#777" stroke-width="0.8"/>
<line x1="562.57" y1="389.5" x2="562.57" y2="391" stroke="#777" stroke-width="0.8"/>
<line x1="597.22" y1="389.5" x2="597.22" y2="391" stroke="#777" stroke-width="0.8"/>
<text transform="translate(618.87 394.2) scale(0.1)" x="0" y="0" font-family='"DejaVu Sans", "Liberation Sans", sans-serif' font-size="46" fill="#333" text-anchor="middle" textLength="145" lengthAdjust="spacingAndGlyphs">Sep</text>
<line x1="640.53" y1="389.5" x2="640.53" y2="391" stroke="#777" stroke-width="0.8"/>
<line x1="675.17" y1="389.5" x2="675.17" y2="391" stroke="#777" stroke-width="0.8"/>
<line x1="709.82" y1="389.5" x2="709.82" y2="391" stroke="#777" stroke-width="0.8"/>
<text transform="translate(731.48 394.2) scale(0.1)" x="0" y="0" font-family='"DejaVu Sans", "Liberation Sans", sans-serif' font-size="46" fill="#333" text-anchor="middle" textLength="145" lengthAdjust="spacingAndGlyphs">Dec</text>
<line x1="753.13" y1="389.5" x2="753.13" y2="391" stroke="#777" stroke-width="0.8"/>
<line x1="753.13" y1="394.3" x2="753.13" y2="399.6" stroke="#999" stroke-width="0.8"/>
<line x1="787.78" y1="389.5" x2="787.78" y2="391" stroke="#777" stroke-width="0.8"/>
<line x1="822.43" y1="389.5" x2="822.43" y2="391" stroke="#777" stroke-width="0.8"/>
<text transform="translate(844.08 394.2) scale(0.1)" x="0" y="0" font-family='"DejaVu Sans", "Liberation Sans", sans-serif' font-size="46" fill="#333" text-anchor="middle" textLength="145" lengthAdjust="spacingAndGlyphs">Mar</text>
<line x1="865.74" y1="389.5" x2="865.74" y2="391" stroke="#777" stroke-width="0.8"/>
<line x1="900.39" y1="389.5" x2="900.39" y2="391" stroke="#777" stroke-width="0.8"/>
<line x1="943.7" y1="389.5" x2="943.7" y2="391" stroke="#777" stroke-width="0.8"/>
<text transform="translate(961.02 394.2) scale(0.1)" x="0" y="0" font-family='"DejaVu Sans", "Liberation Sans", sans-serif' font-size="46" fill="#333" text-anchor="middle" textLength="145" lengthAdjust="spacingAndGlyphs">Jun</text>
<line x1="978.34" y1="389.5" x2="978.34" y2="391" stroke="#777" stroke-width="0.8"/>
<line x1="1012.99" y1="389.5" x2="1012.99" y2="391" stroke="#777" stroke-width="0.8"/>
<line x1="1056.3" y1="389.5" x2="1056.3" y2="391" stroke="#777" stroke-width="0.8"/>
<text transform="translate(1073.63 394.2) scale(0.1)" x="0" y="0" font-family='"DejaVu Sans", "Liberation Sans", sans-serif' font-size="46" fill="#333" text-anchor="middle" textLength="145" lengthAdjust="spacingAndGlyphs">Sep</text>
<line x1="1090.95" y1="389.5" x2="1090.95" y2="391" stroke="#777" stroke-width="0.8"/>
<line x1="1125.6" y1="389.5" x2="1125.6" y2="391" stroke="#777" stroke-width="0.8"/>
<line x1="1168.91" y1="389.5" x2="1168.91" y2="391" stroke="#777" stroke-width="0.8"/>
<text transform="translate(1186.23 394.2) scale(0.1)" x="0" y="0" font-family='"DejaVu Sans", "Liberation Sans", sans-serif' font-size="46" fill="#333" text-anchor="middle" textLength="145" lengthAdjust="spacingAndGlyphs">Dec</text>
<line x1="1203.56" y1="389.5" x2="1203.56" y2="391" stroke="#777" stroke-width="0.8"/>
<line x1="1203.56" y1="394.3" x2="1203.56" y2="399.6" stroke="#999" stroke-width="0.8"/>
<line x1="1246.87" y1="389.5" x2="1246.87" y2="391" stroke="#777" stroke-width="0.8"/>
<line x1="1281.51" y1="389.5" x2="1281.51" y2="391" stroke="#777" stroke-width="0.8"/>
<text transform="translate(1298.84 394.2) scale(0.1)" x="0" y="0" font-family='"DejaVu Sans", "Liberation Sans", sans-serif' font-size="46" fill="#333" text-anchor="middle" textLength="145" lengthAdjust="spacingAndGlyphs">Mar</text>
<line x1="1316.16" y1="389.5" x2="1316.16" y2="391" stroke="#777" stroke-width="0.8"/>
<line x1="1350.81" y1="389.5" x2="1350.81" y2="391" stroke="#777" stroke-width="0.8"/>
<line x1="1394.12" y1="389.5" x2="1394.12" y2="391" stroke="#777" stroke-width="0.8"/>
<text transform="translate(1411.44 394.2) scale(0.1)" x="0" y="0" font-family='"DejaVu Sans", "Liberation Sans", sans-serif' font-size="46" fill="#333" text-anchor="middle" textLength="145" lengthAdjust="spacingAndGlyphs">Jun</text>
<line x1="1428.77" y1="389.5" x2="1428.77" y2="391" stroke="#777" stroke-width="0.8"/>
<line x1="1463.42" y1="389.5" x2="1463.42" y2="391" stroke="#777" stroke-width="0.8"/>
<line x1="1506.73" y1="389.5" x2="1506.73" y2="391" stroke="#777" stroke-width="0.8"/>
<text transform="translate(1524.05 394.2) scale(0.1)" x="0" y="0" font-family='"DejaVu Sans", "Liberation Sans", sans-serif' font-size="46" fill="#333" text-anchor="middle" textLength="145" lengthAdjust="spacingAndGlyphs">Sep</text>
<line x1="1541.37" y1="389.5" x2="1541.37" y2="391" stroke="#777" stroke-width="0.8"/>
<line x1="1584.68" y1="389.5" x2="1584.68" y2="391" stroke="#777" stroke-width="0.8"/>
<line x1="1619.33" y1="389.5" x2="1619.33" y2="391" stroke="#777" stroke-width="0.8"/>
<text transform="translate(1636.66 394.2) scale(0.1)" x="0" y="0" font-family='"DejaVu Sans", "Liberation Sans", sans-serif' font-size="46" fill="#333" text-anchor="middle" textLength="145" lengthAdjust="spacingAndGlyphs">Dec</text>
<line x1="1653.98" y1="389.5" x2="1653.98" y2="391" stroke="#777" stroke-width="0.8"/>
<line x1="1653.98" y1="394.3" x2="1653.98" y2="399.6" stroke="#999" stroke-width="0.8"/>
<line x1="1697.29" y1="389.5" x2="1697.29" y2="391" stroke="#777" stroke-width="0.8"/>
<line x1="1731.94" y1="389.5" x2="1731.94" y2="391" stroke="#777" stroke-width="0.8"/>
<text transform="translate(155.35 398.6) scale(0.1)" x="0" y="0" font-family='"DejaVu Sans", "Liberation Sans", sans-serif' font-size="48" fill="#333" text-anchor="middle" textLength="195" lengthAdjust="spacingAndGlyphs">2022</text>
<text transform="translate(527.92 398.6) scale(0.1)" x="0" y="0" font-family='"DejaVu Sans", "Liberation Sans", sans-serif' font-size="48" fill="#333" text-anchor="middle" textLength="195" lengthAdjust="spacingAndGlyphs">2023</text>
<text transform="translate(978.34 398.6) scale(0.1)" x="0" y="0" font-family='"DejaVu Sans", "Liberation Sans", sans-serif' font-size="48" fill="#333" text-anchor="middle" textLength="195" lengthAdjust="spacingAndGlyphs">2024</text>
<text transform="translate(1428.77 398.6) scale(0.1)" x="0" y="0" font-family='"DejaVu Sans", "Liberation Sans", sans-serif' font-size="48" fill="#333" text-anchor="middle" textLength="195" lengthAdjust="spacingAndGlyphs">2025</text>
<text transform="translate(1701.74 398.6) scale(0.1)" x="0" y="0" font-family='"DejaVu Sans", "Liberation Sans", sans-serif' font-size="48" fill="#333" text-anchor="middle" textLength="195" lengthAdjust="spacingAndGlyphs">2026</text>
<text transform="translate(9.8 404.2) scale(0.1)" x="0" y="0" font-family='"DejaVu Sans", "Liberation Sans", sans-serif' font-size="48" fill="#333" textLength="3206" lengthAdjust="spacingAndGlyphs" xml:space="preserve">XAU Curncy (Gold Spot  $/OZ) Weekly again Weekly 29SEP2023-12JAN2026</text>
<text transform="translate(929.4 404.2) scale(0.1)" x="0" y="0" font-family='"DejaVu Sans", "Liberation Sans", sans-serif' font-size="48" fill="#333" textLength="1710" lengthAdjust="spacingAndGlyphs">Copyright© 2026 Bloomberg Finance L.P.</text>
<text transform="translate(1700 404.2) scale(0.1)" x="0" y="0" font-family='"DejaVu Sans", "Liberation Sans", sans-serif' font-size="48" fill="#333" textLength="930" lengthAdjust="spacingAndGlyphs">12-Jan-2026 09:02:58</text>
</svg>
</body></html>
